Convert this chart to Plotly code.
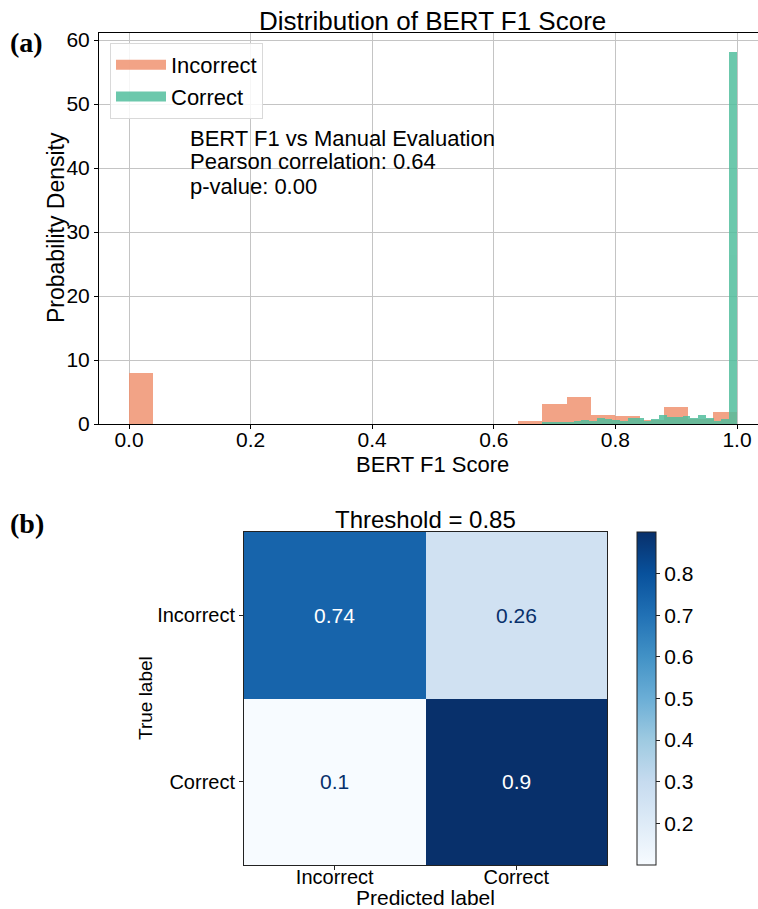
import plotly.graph_objects as go

# ---------------- data ----------------
incorrect_bin_left = [0.00, 0.64, 0.68, 0.72, 0.76, 0.80, 0.84, 0.88, 0.92, 0.96]
incorrect_density = [7.95, 0.5, 3.05, 4.15, 1.45, 1.3, 0.6, 2.7, 0.8, 1.9]
incorrect_bin_width = 0.04

correct_bin_start = 0.68
correct_bin_width = 0.0128
correct_density = [0.16, 0.26, 0.21, 0.36, 0.42, 0.63, 0.42, 0.99, 0.78, 0.68,
                   0.52, 0.89, 0.94, 0.52, 0.78, 1.40, 1.15, 1.04, 1.30, 0.89,
                   1.46, 0.94, 0.52, 0.78, 58.2]

x_ticks = [0.0, 0.2, 0.4, 0.6, 0.8, 1.0]
y_ticks = [0, 10, 20, 30, 40, 50, 60]

stats_lines = ["BERT F1 vs Manual Evaluation", "Pearson correlation: 0.64", "p-value: 0.00"]

cm_labels = ["Incorrect", "Correct"]
cm_values = [[0.74, 0.26],
             [0.10, 0.90]]
cbar_ticks = [0.2, 0.3, 0.4, 0.5, 0.6, 0.7, 0.8]
threshold_text = "Threshold = 0.85"

# ---------------- figure ----------------
W, H = 758, 909
FONT = "Liberation Sans, Arial, sans-serif"
SERIF = "Liberation Serif, Times New Roman, serif"
ORANGE = "#F09371"
GREEN = "#52BE9D"

def px_x(p):
    return p / W

def px_y(p):
    return 1 - p / H

incorrect_centers = [l + incorrect_bin_width / 2 for l in incorrect_bin_left]
correct_centers = [correct_bin_start + (i + 0.5) * correct_bin_width for i in range(len(correct_density))]

fig = go.Figure()
fig.add_trace(go.Bar(
    x=incorrect_centers, y=incorrect_density, width=incorrect_bin_width,
    name="Incorrect", marker=dict(color=ORANGE, line=dict(width=0)),
    opacity=0.85, xaxis="x", yaxis="y", showlegend=False, legendgroup="inc"))
fig.add_trace(go.Bar(
    x=correct_centers, y=correct_density, width=correct_bin_width,
    name="Correct", marker=dict(color=GREEN, line=dict(width=0)),
    opacity=0.85, xaxis="x", yaxis="y", showlegend=False, legendgroup="cor"))
# legend proxies (wide patches like matplotlib)
fig.add_trace(go.Scatter(x=[None], y=[None], mode="lines", name="Incorrect",
                         line=dict(color=ORANGE, width=15), opacity=0.85,
                         legendgroup="inc", xaxis="x", yaxis="y"))
fig.add_trace(go.Scatter(x=[None], y=[None], mode="lines", name="Correct",
                         line=dict(color=GREEN, width=15), opacity=0.85,
                         legendgroup="cor", xaxis="x", yaxis="y"))

blues = ['rgb(247,251,255)', 'rgb(222,235,247)', 'rgb(198,219,239)', 'rgb(158,202,225)',
         'rgb(107,174,214)', 'rgb(66,146,198)', 'rgb(33,113,181)', 'rgb(8,81,156)', 'rgb(8,48,107)']
blues_scale = [[i / (len(blues) - 1), c] for i, c in enumerate(blues)]
flat = [v for row in cm_values for v in row]
zmin, zmax = min(flat), max(flat)

fig.add_trace(go.Heatmap(
    z=cm_values, x=cm_labels, y=cm_labels, colorscale=blues_scale,
    zmin=zmin, zmax=zmax, showscale=True, xaxis="x2", yaxis="y2",
    hoverinfo="skip", showlegend=False,
    colorbar=dict(
        x=px_x(637), xanchor="left", xpad=0, ypad=0,
        thickness=19, thicknessmode="pixels",
        y=px_y(865), yanchor="bottom", len=(865 - 532) / H, lenmode="fraction",
        outlinewidth=1, outlinecolor="#222222",
        tickvals=cbar_ticks, ticks="outside", ticklen=4, tickcolor="#222222",
        tickfont=dict(family=FONT, size=21, color="black"),
    ),
))

# cell annotations
mid = (zmin + zmax) / 2
for i, row in enumerate(cm_values):
    for j, v in enumerate(row):
        fig.add_annotation(
            x=cm_labels[j], y=cm_labels[i], xref="x2", yref="y2",
            text=f"{v:g}", showarrow=False,
            font=dict(family=FONT, size=21,
                      color="white" if v > mid else "rgb(8,48,107)"))

# top histogram axes
x0 = 0.0 - 30 / 608
x1 = 1.0 + 21 / 608
fig.update_layout(
    width=W, height=H, margin=dict(l=0, r=0, t=0, b=0),
    paper_bgcolor="white", plot_bgcolor="white",
    barmode="overlay", bargap=0,
    font=dict(family=FONT, size=21, color="black"),
    xaxis=dict(domain=[px_x(99), 1.0], range=[x0, x1], anchor="y",
               tickvals=x_ticks, ticktext=[f"{t:.1f}" for t in x_ticks],
               showgrid=True, gridcolor="#c4c4c4", gridwidth=1,
               zeroline=False, showline=True, linecolor="black", linewidth=1,
               mirror=True, ticks="outside", ticklen=4, tickcolor="black",
               tickfont=dict(size=21), automargin=False, ticklabelstandoff=-7),
    yaxis=dict(domain=[px_y(424), px_y(33)], range=[0, 61.1], anchor="x",
               tickvals=y_ticks, showgrid=True, gridcolor="#c4c4c4", gridwidth=1,
               zeroline=False, showline=True, linecolor="black", linewidth=1,
               ticks="outside", ticklen=4, tickcolor="black",
               tickfont=dict(size=21), automargin=False),
    xaxis2=dict(domain=[px_x(244), px_x(607)], anchor="y2",
                showgrid=False, zeroline=False, showline=True, linecolor="#222222",
                linewidth=1, mirror=True, ticks="outside", ticklen=4, tickcolor="#222222",
                tickfont=dict(size=20), automargin=False, ticklabelstandoff=-10),
    yaxis2=dict(domain=[px_y(865), px_y(532)], anchor="x2", autorange="reversed",
                showgrid=False, zeroline=False, showline=True, linecolor="#222222",
                linewidth=1, mirror=True, ticks="outside", ticklen=4, tickcolor="#222222",
                tickfont=dict(size=20), automargin=False),
    legend=dict(x=px_x(110), y=px_y(43), xanchor="left", yanchor="top",
                bgcolor="rgba(255,255,255,0.85)", bordercolor="#d9d9d9", borderwidth=1,
                font=dict(size=22), itemwidth=50, tracegroupgap=0),
    showlegend=True,
)

def text_at(x, y, s, size, angle=0, family=FONT, xanchor="center"):
    fig.add_annotation(x=px_x(x), y=px_y(y), xref="paper", yref="paper",
                       text=s, showarrow=False, textangle=angle,
                       xanchor=xanchor, yanchor="middle",
                       font=dict(family=family, size=size, color="black"))

# titles and axis labels
text_at(432, 21, "Distribution of BERT F1 Score", 26)
text_at(432, 464, "BERT F1 Score", 22)
text_at(56, 228, "Probability Density", 23, angle=-90)
text_at(425.5, 519, threshold_text, 24)
text_at(425.5, 897, "Predicted label", 21)
text_at(145, 698, "True label", 19, angle=-90)
# stats box text, one line per row
for k, line in enumerate(stats_lines):
    text_at(188, 138 + 24 * k, line, 22, xanchor="left")
# panel labels
text_at(8, 43, "<b>(a)</b>", 28, family=SERIF, xanchor="left")
text_at(8, 523, "<b>(b)</b>", 28, family=SERIF, xanchor="left")

fig.write_html("out.html", config={"displayModeBar": False},
               post_script="document.body.style.margin='0px';")
